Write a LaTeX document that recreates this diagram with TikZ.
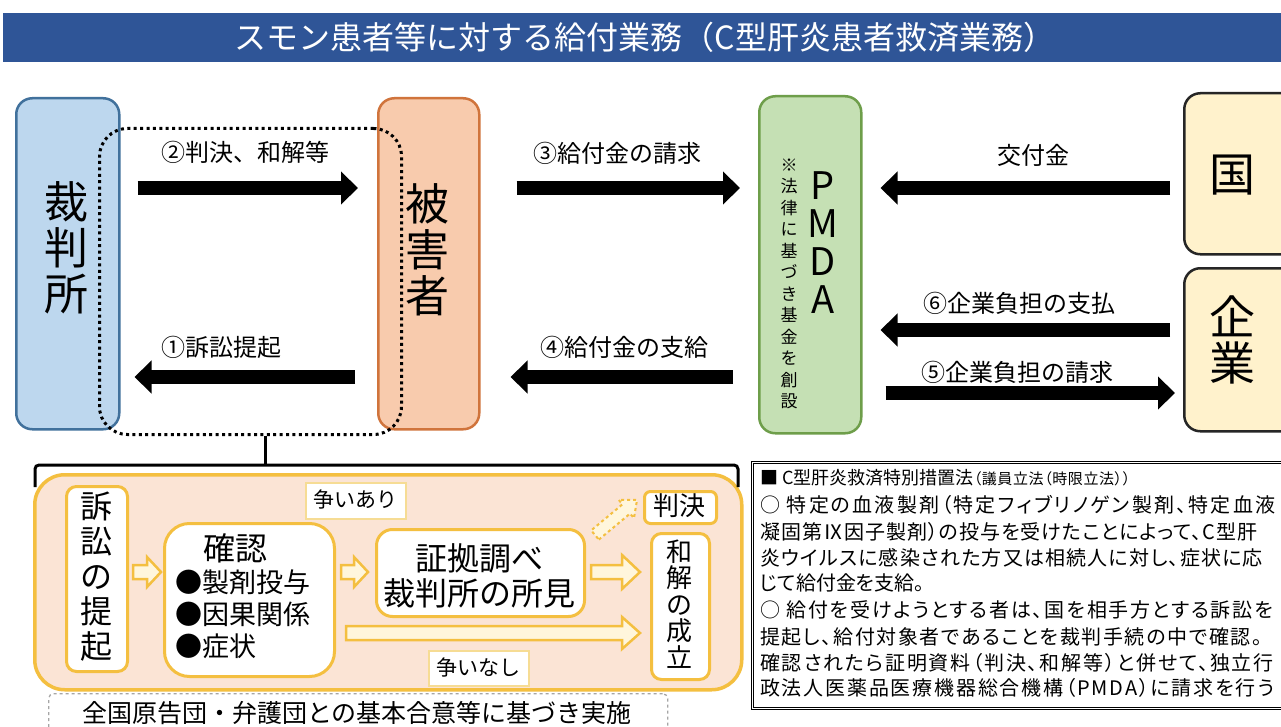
\documentclass[tikz,border=0pt]{standalone}
\usepackage{fontspec}
\setmainfont{Noto Sans CJK JP}
\newfontfamily\pfont[RawFeature=+palt]{Noto Sans CJK JP}
\usetikzlibrary{arrows.meta,calc}
\definecolor{titleblue}{HTML}{2F5597}
\definecolor{courtfill}{HTML}{BDD7EE}
\definecolor{courtdraw}{HTML}{41719C}
\definecolor{victfill}{HTML}{F8CBAD}
\definecolor{victdraw}{HTML}{D0743C}
\definecolor{pmdafill}{HTML}{C5E0B4}
\definecolor{pmdadraw}{HTML}{6E9E4A}
\definecolor{govfill}{HTML}{FFF2CC}
\definecolor{govdraw}{HTML}{262626}
\definecolor{gold}{HTML}{F4BF40}
\definecolor{palegold}{HTML}{F6DC94}
\definecolor{peach}{HTML}{FBE4D5}
\definecolor{holfill}{HTML}{FFF6DC}
\newcommand{\jfs}[2]{\fontsize{#1}{#2}\selectfont}
\newcommand{\lsp}[1]{\addfontfeature{LetterSpace=#1}}
\newcommand{\harr}[5]{% start, end, shaft half, head half, head length
  \draw[hol] let \p1=#1, \p2=#2 in
    (\x1,{\y1+#3pt}) -- ({\x2-#5pt},{\y1+#3pt}) -- ({\x2-#5pt},{\y1+#4pt}) --
    (\x2,\y1) -- ({\x2-#5pt},{\y1-#4pt}) -- ({\x2-#5pt},{\y1-#3pt}) --
    (\x1,{\y1-#3pt}) -- cycle;}
\tikzset{
  every node/.style={inner sep=0pt},
  box/.style={draw, line width=2.5pt, rounded corners=16pt, anchor=north west},
  inbox/.style={draw=gold, fill=white, line width=3pt, anchor=north west},
  tagbox/.style={draw=palegold, fill=white, line width=1.5pt, anchor=north west},
  bigv/.style={font=\jfs{44}{46}, align=center},
  pmdaletter/.style={font=\jfs{38}{38}},
  lbl/.style={font=\jfs{24}{24}},
  blk/.style={line width=14pt, -{Triangle[length=17pt,width=32pt]}},
  hol/.style={draw=gold, fill=holfill, line width=2.5pt, line join=miter},
  lawline/.style={anchor=west, font=\pfont\jfs{20}{20}},
}
\begin{document}
\begin{tikzpicture}[x=1pt,y=-1pt]
\clip (0,0) rectangle (1281,727);
\fill[white] (0,0) rectangle (1281,727);

% title
\node[fill=titleblue, minimum width=1278, minimum height=49, anchor=north west] (title) at (3,13) {};
\node[font=\jfs{32}{32}, text=white] (titletext) at (645,37) {スモン患者等に対する給付業務（C型肝炎患者救済業務）};

% main boxes
\node[box, draw=courtdraw, fill=courtfill, minimum width=103, minimum height=331] (court) at (15,97) {};
\node[bigv] (courttxt) at (66.5,248) {裁\\判\\所};
\node[box, draw=victdraw, fill=victfill, minimum width=101, minimum height=331] (victim) at (377,97) {};
\node[bigv] (victtxt) at (427.5,250) {被\\害\\者};
\node[box, draw=pmdadraw, fill=pmdafill, minimum width=102, minimum height=337] (pmda) at (758,95) {};
\node[pmdaletter] (pP) at (823,186) {P};
\node[pmdaletter] (pM) at (823,224) {M};
\node[pmdaletter] (pD) at (823,262) {D};
\node[pmdaletter] (pA) at (823,300) {A};
\node[font=\jfs{17}{21.5}, align=center] (pmdanote) at (789,284) {※\\法\\律\\に\\基\\づ\\き\\基\\金\\を\\創\\設};
\node[box, draw=govdraw, fill=govfill, minimum width=130, minimum height=161] (gov) at (1183,92) {};
\node[font=\jfs{46}{46}] (govtxt) at (1232,175) {国};
\node[box, draw=govdraw, fill=govfill, minimum width=130, minimum height=163] (corp) at (1183,267) {};
\node[font=\jfs{46}{46}, align=center] (corptxt) at (1232,340) {企\\業};

% dotted group
\node[draw, line width=3pt, dash pattern=on 3pt off 3.4pt, rounded corners=28pt,
      minimum width=302, minimum height=306, anchor=north west] (grp) at (98,127) {};

% rows
\coordinate (r1) at (0,188);
\coordinate (r2) at (0,377);
\coordinate (r3) at (0,330);
\coordinate (r4) at (0,393);

% block arrows
\draw[blk] ($(court.east |- r1)+(17,0)$) -- ($(victim.west |- r1)+(-19,0)$);
\draw[blk] ($(victim.west |- r2)+(-22,0)$) -- ($(court.east |- r2)+(14,0)$);
\draw[blk] ($(victim.east |- r1)+(36,0)$) -- ($(pmda.west |- r1)+(-18,0)$);
\draw[blk] ($(pmda.west |- r2)+(-25,0)$) -- ($(victim.east |- r2)+(30,0)$);
\draw[blk] ($(gov.west |- r1)+(-13,0)$) -- ($(pmda.east |- r1)+(18,0)$);
\draw[blk] ($(corp.west |- r3)+(-13,0)$) -- ($(pmda.east |- r3)+(18,0)$);
\draw[blk] ($(pmda.east |- r4)+(23,0)$) -- ($(corp.west |- r4)+(-8,0)$);

% arrow labels
\node[lbl] (l2) at (245,152) {②判決、和解等};
\node[lbl] (l1) at (221,347) {①訴訟提起};
\node[lbl] (l3) at (617,153) {③給付金の請求};
\node[lbl] (l4) at (624,347) {④給付金の支給};
\node[lbl] (lk) at (1033,155) {交付金};
\node[lbl] (l6) at (1019,303) {⑥企業負担の支払};
\node[lbl] (l5) at (1017,372) {⑤企業負担の請求};

% process area
\node[box, draw=gold, fill=peach, line width=3.5pt, rounded corners=30pt,
      minimum width=707, minimum height=215] (proc) at (33,473) {};
\coordinate (brk) at (265,465);
\draw[line width=3pt] (grp.south -| brk) -- (brk);
\draw[line width=3pt, rounded corners=4pt] (35,487) -- (35,465) -- (738,465) -- (738,487);

\node[inbox, rounded corners=10pt, minimum width=61, minimum height=185] (teiki) at (65,485) {};
\node[font=\jfs{32}{35}, align=center] (teikitxt) at (96,577) {訴\\訟\\の\\提\\起};
\node[inbox, rounded corners=25pt, minimum width=170, minimum height=153] (kakunin) at (163,522) {};
\node[font=\jfs{32}{32}] (kakunintxt) at (235,548) {確認};
\node[font=\jfs{27}{32}, align=left, anchor=north west] (kakuninlist) at (175,570) {●製剤投与\\●因果関係\\●症状};
\node[inbox, rounded corners=16pt, minimum width=208, minimum height=87] (shoko) at (375,528) {};
\node[font=\jfs{32}{35}, align=center] (shokotxt) at (479,575.5) {証拠調べ\\裁判所の所見};
\node[inbox, rounded corners=6pt, minimum width=72, minimum height=32] (hanketsu) at (643,490) {};
\node[font=\jfs{26}{26}] (hanketsutxt) at (679,506) {判決};
\node[inbox, rounded corners=10pt, minimum width=58, minimum height=146] (wakai) at (650,532) {};
\node[font=\jfs{26}{26.5}, align=center] (wakaitxt) at (679,604) {和\\解\\の\\成\\立};
\node[tagbox, minimum width=100, minimum height=36] (ari) at (305,482) {};
\node[font=\jfs{21}{21}] (aritxt) at (355,500) {争いあり};
\node[tagbox, minimum width=100, minimum height=35] (nashi) at (428,650) {};
\node[font=\jfs{21}{21}] (nashitxt) at (478,667.5) {争いなし};

% hollow arrows
\coordinate (h1) at (0,572);
\coordinate (h2) at (0,633);
\harr{($(teiki.east |- h1)+(4,0)$)}{($(kakunin.west |- h1)+(-2,0)$)}{7}{15}{14}
\harr{($(kakunin.east |- h1)+(5,0)$)}{($(shoko.west |- h1)+(-7,0)$)}{7}{15}{14}
\harr{($(shoko.east |- h1)+(5,0)$)}{($(wakai.west |- h1)+(-10,0)$)}{7}{17}{18}
\harr{($(kakunin.east |- h2)+(10,0)$)}{($(wakai.west |- h2)+(-10,0)$)}{7}{16}{18}
\begin{scope}[shift={(595,535)}, rotate=39.8]
  \draw[hol, dashed, line width=2pt] (0,6) -- (40.7,6) -- (40.7,12) -- (54.7,0) -- (40.7,-12) -- (40.7,-6) -- (0,-6) -- cycle;
\end{scope}

% bottom dashed note
\node[draw=gray!70, dashed, line width=1.3pt, rounded corners=5pt, minimum width=619,
      minimum height=60, anchor=north west] (note) at (48,693) {};
\node[font=\jfs{25}{25}] (notetxt) at (357,713) {全国原告団・弁護団との基本合意等に基づき実施};

% law box
\node[draw, double, double distance=1.8pt, line width=0.9pt, minimum width=560,
      minimum height=246, anchor=north west] (law) at (752,462) {};
\node[lawline, font=\pfont\jfs{18}{18}] (t1) at (760,478) {■ C型肝炎救済特別措置法{\jfs{15}{15}\lsp{4}（議員立法（時限立法））}};
\node[lawline] (t2) at (760,505) {\lsp{11}○ 特定の血液製剤（特定フィブリノゲン製剤、特定血液};
\node[lawline] (t3) at (760,532) {\lsp{5}凝固第Ⅸ因子製剤）の投与を受けたことによって、C型肝};
\node[lawline] (t4) at (760,558) {\lsp{6}炎ウイルスに感染された方又は相続人に対し、症状に応};
\node[lawline] (t5) at (760,583) {じて給付金を支給。};
\node[lawline] (t6) at (760,610) {\lsp{9}○ 給付を受けようとする者は、国を相手方とする訴訟を};
\node[lawline] (t7) at (760,637) {\lsp{8}提起し、給付対象者であることを裁判手続の中で確認。};
\node[lawline] (t8) at (760,663) {\lsp{9}確認されたら証明資料（判決、和解等）と併せて、独立行};
\node[lawline] (t9) at (760,688) {\lsp{9}政法人医薬品医療機器総合機構（PMDA）に請求を行う};
\end{tikzpicture}
\end{document}
